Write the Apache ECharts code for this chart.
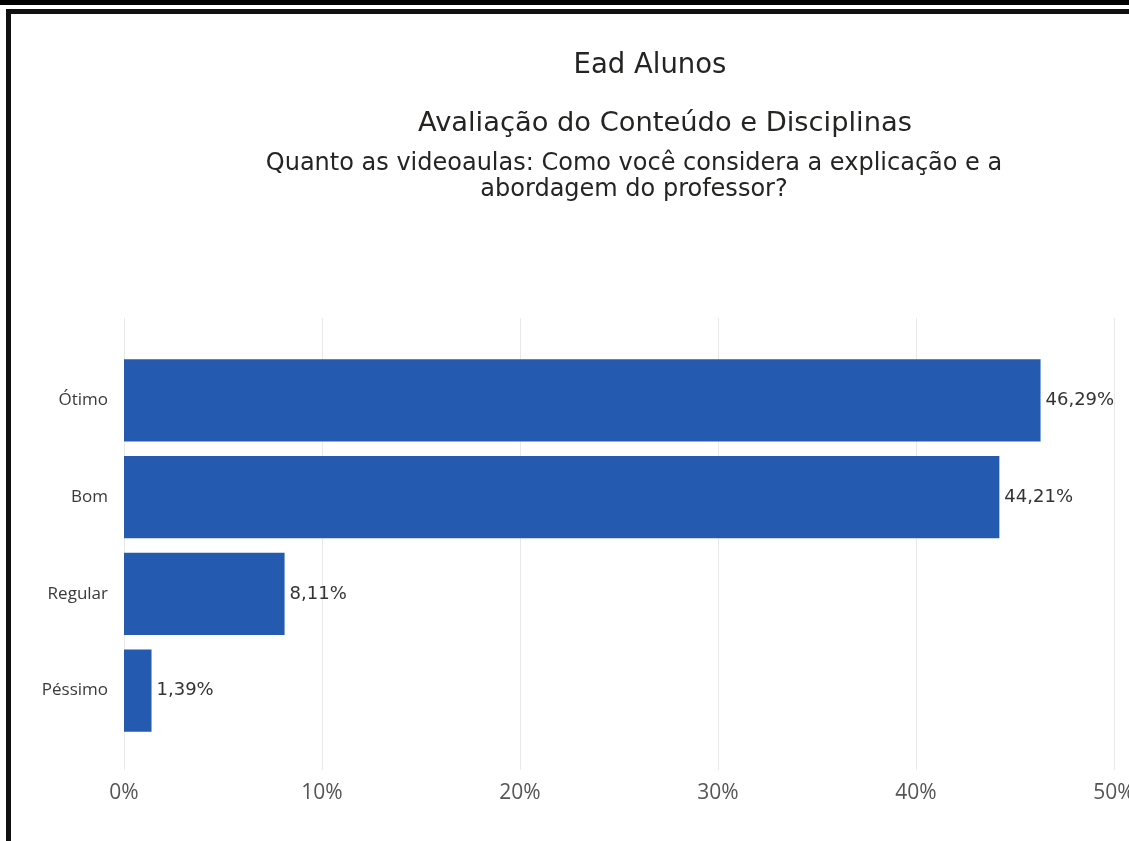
<!DOCTYPE html>
<html>
<head>
<meta charset="utf-8">
<title>Ead Alunos</title>
<script src="https://cdn.jsdelivr.net/npm/echarts@6/dist/echarts.min.js"></script>
<style>
  html, body { margin: 0; padding: 0; background: #ffffff; }
  #chart { width: 1129px; height: 841px; }
</style>
</head>
<body>
<div id="chart"></div>
<script>
// Survey answers (top to bottom) and their share of responses, in percent
const categories = ['Ótimo', 'Bom', 'Regular', 'Péssimo'];
const shares = [46.29, 44.21, 8.11, 1.39];
const axisTicks = [0, 10, 20, 30, 40, 50];

const titleMain = 'Ead Alunos';
const titleSection = 'Avaliação do Conteúdo e Disciplinas';
const titleQuestion = 'Quanto as videoaulas: Como você considera a explicação e a\nabordagem do professor?';

const axisMin = axisTicks[0];
const axisMax = axisTicks[axisTicks.length - 1];
const axisStep = axisTicks[1] - axisTicks[0];

const headFont = '"DejaVu Sans", sans-serif';
const plain = '"Open Sans", "Noto Sans", sans-serif';

const pct = v => v.toFixed(2).replace('.', ',') + '%';
const tickPct = v => String(v).replace('.', ',') + '%';

const chart = echarts.init(document.getElementById('chart'), null, { renderer: 'canvas' });

chart.setOption({
  backgroundColor: '#ffffff',
  animation: false,
  title: [
    { text: titleMain, left: 645, top: 47, textAlign: 'center',
      textStyle: { fontFamily: headFont, fontSize: 27.5, fontWeight: 'normal', color: '#252423' } },
    { text: titleSection, left: 660, top: 105, textAlign: 'center',
      textStyle: { fontFamily: headFont, fontSize: 27.3, fontWeight: 'normal', color: '#252423' } },
    { text: titleQuestion, left: 629, top: 146, textAlign: 'center',
      textStyle: { fontFamily: headFont, fontSize: 24, fontWeight: 'normal', color: '#252423', lineHeight: 26 } }
  ],
  graphic: [
    // frame lines around the report page
    { type: 'rect', shape: { x: 0, y: 0, width: 1129, height: 5 }, style: { fill: '#000' }, silent: true },
    { type: 'rect', shape: { x: 6, y: 9, width: 1123, height: 5 }, style: { fill: '#111' }, silent: true },
    { type: 'rect', shape: { x: 6, y: 9, width: 5, height: 832 }, style: { fill: '#111' }, silent: true }
  ],
  grid: [
    // grid 0: full-height plot area carrying the vertical gridlines and tick labels
    { left: 124, right: 15, top: 318, bottom: 71, containLabel: false, outerBoundsMode: 'none' },
    // grid 1: the bars themselves
    { left: 124, right: 15, top: 352, bottom: 102, containLabel: false, outerBoundsMode: 'none' }
  ],
  xAxis: [
    { gridIndex: 0, type: 'value', min: axisMin, max: axisMax, interval: axisStep,
      axisLine: { show: false }, axisTick: { show: false },
      splitLine: { show: true, lineStyle: { color: '#e9e9e9', width: 1 } },
      axisLabel: { margin: 13, formatter: tickPct, fontFamily: plain, fontSize: 21, color: '#555' } },
    { gridIndex: 1, type: 'value', min: axisMin, max: axisMax, interval: axisStep, show: false,
      splitLine: { show: false } }
  ],
  yAxis: [
    { gridIndex: 0, type: 'category', data: categories, show: false, inverse: true },
    { gridIndex: 1, type: 'category', data: categories, inverse: true,
      axisLine: { show: false }, axisTick: { show: false },
      axisLabel: { margin: 16, fontFamily: plain, fontSize: 17, color: '#3a3a3a' } }
  ],
  series: [{
    type: 'bar',
    xAxisIndex: 1,
    yAxisIndex: 1,
    data: shares,
    barCategoryGap: '15%',
    itemStyle: { color: '#245BB0' },
    label: {
      show: true, position: 'right', distance: 5,
      formatter: p => pct(p.value),
      fontFamily: headFont, fontSize: 18, color: '#333'
    }
  }]
});
</script>
</body>
</html>
